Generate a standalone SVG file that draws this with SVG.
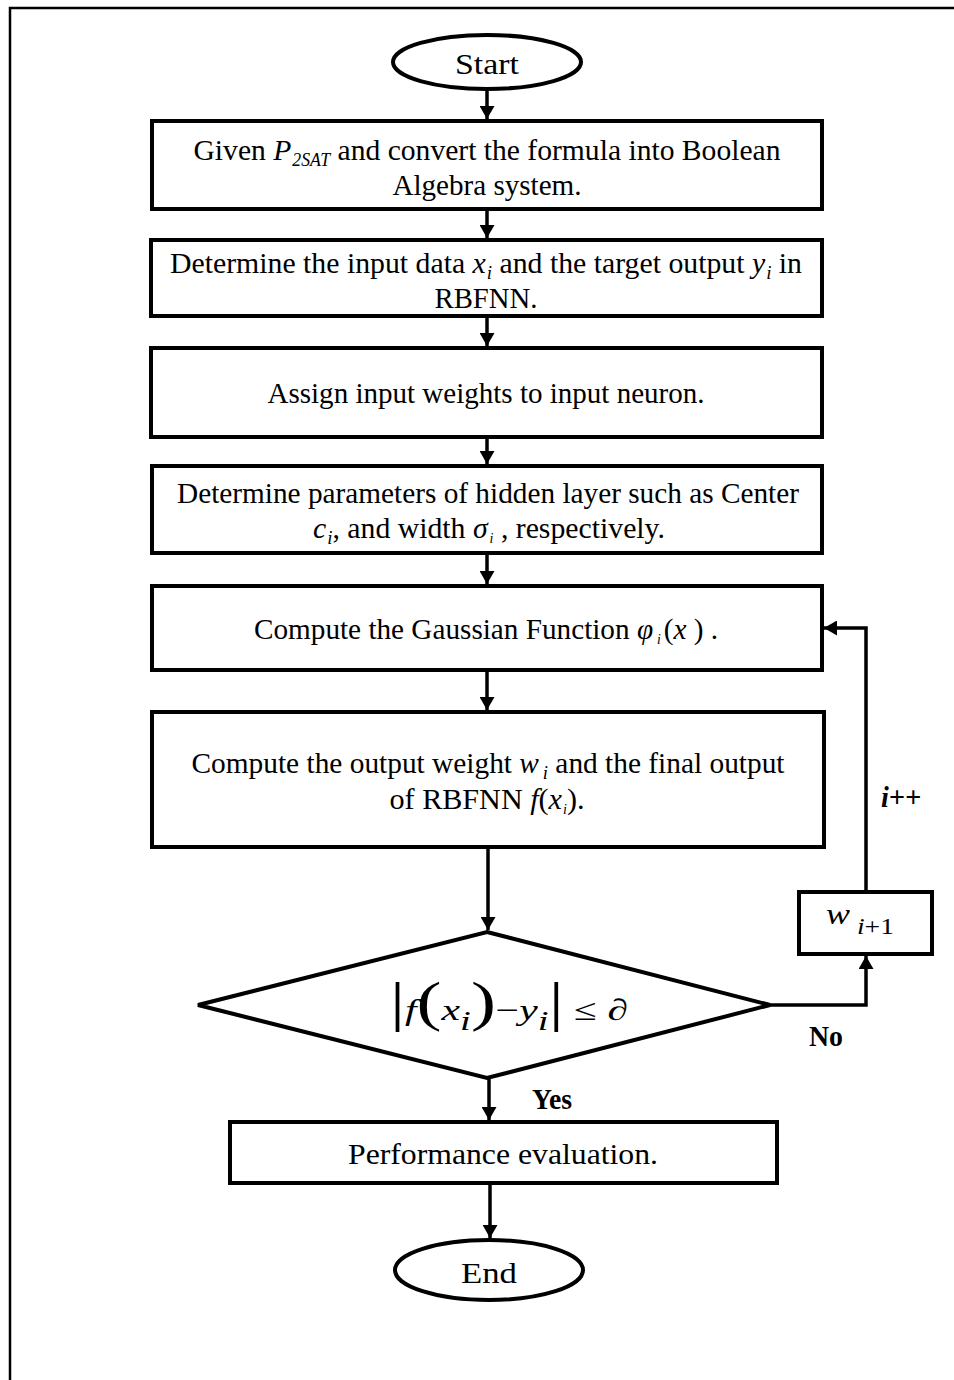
<svg xmlns="http://www.w3.org/2000/svg" width="954" height="1380" viewBox="0 0 954 1380">
<style>
.box{fill:#fff;stroke:#000;stroke-width:4}
.term{fill:#fff;stroke:#000;stroke-width:4}
.t{font-family:"Liberation Serif","Times New Roman",serif;font-size:30px;fill:#000;text-anchor:middle}
.i{font-style:italic}
.b{font-weight:bold}
.ln{fill:none;stroke:#000;stroke-width:3.5}
</style>
<defs>
<marker id="ah" viewBox="0 0 13 15" refX="13" refY="7.5" markerWidth="13" markerHeight="15" markerUnits="userSpaceOnUse" orient="auto">
<path d="M0,0 L13,7.5 L0,15 Z" fill="#000"/>
</marker>
</defs>
<rect x="0" y="0" width="954" height="1380" fill="#fff"/>
<path d="M10,1380 V8 H954" fill="none" stroke="#000" stroke-width="2.5"/>

<g id="connectors">
<line class="ln" x1="487" y1="90" x2="487" y2="119" marker-end="url(#ah)"/>
<line class="ln" x1="487" y1="209" x2="487" y2="238" marker-end="url(#ah)"/>
<line class="ln" x1="487" y1="316" x2="487" y2="346" marker-end="url(#ah)"/>
<line class="ln" x1="487" y1="437" x2="487" y2="464" marker-end="url(#ah)"/>
<line class="ln" x1="487" y1="553" x2="487" y2="584" marker-end="url(#ah)"/>
<line class="ln" x1="487" y1="670" x2="487" y2="710" marker-end="url(#ah)"/>
<line class="ln" x1="488" y1="847" x2="488" y2="930" marker-end="url(#ah)"/>
<line class="ln" x1="489" y1="1078" x2="489" y2="1120" marker-end="url(#ah)"/>
<line class="ln" x1="490" y1="1183" x2="490" y2="1238" marker-end="url(#ah)"/>
<polyline class="ln" points="770,1005 866,1005 866,956" marker-end="url(#ah)"/>
<polyline class="ln" points="866,892 866,628 824,628" marker-end="url(#ah)"/>
<text class="t i b" x="901" y="807" font-size="25" textLength="40" lengthAdjust="spacingAndGlyphs">i++</text>
<text class="t b" x="826" y="1046" font-size="25" textLength="34" lengthAdjust="spacingAndGlyphs">No</text>
<text class="t b" x="552" y="1109" font-size="25" textLength="40" lengthAdjust="spacingAndGlyphs">Yes</text>
</g>

<g id="start">
<ellipse class="term" cx="487" cy="62" rx="94" ry="27"/>
<text class="t" x="487" y="74" font-size="33" textLength="64" lengthAdjust="spacingAndGlyphs">Start</text>
</g>

<g id="box1">
<rect class="box" x="152" y="121" width="670" height="88"/>
<text class="t" x="487" y="160" textLength="587" lengthAdjust="spacingAndGlyphs">Given  <tspan class="i">P</tspan><tspan class="i" font-size="18" dy="6" dx="1">2SAT</tspan><tspan dy="-6"> and convert the formula into Boolean</tspan></text>
<text class="t" x="487" y="195" textLength="189" lengthAdjust="spacingAndGlyphs">Algebra system.</text>
</g>

<g id="box2">
<rect class="box" x="151" y="240" width="671" height="76"/>
<text class="t" x="486" y="273" textLength="632" lengthAdjust="spacingAndGlyphs">Determine the input data <tspan class="i">x</tspan><tspan class="i" font-size="19" dy="6" dx="1">i</tspan><tspan dy="-6"> and the target output </tspan><tspan class="i">y</tspan><tspan class="i" font-size="19" dy="6" dx="1">i</tspan><tspan dy="-6"> in</tspan></text>
<text class="t" x="486" y="308" textLength="103" lengthAdjust="spacingAndGlyphs">RBFNN.</text>
</g>

<g id="box3">
<rect class="box" x="151" y="348" width="671" height="89"/>
<text class="t" x="486" y="403" textLength="437" lengthAdjust="spacingAndGlyphs">Assign input weights to input neuron.</text>
</g>

<g id="box4">
<rect class="box" x="152" y="466" width="670" height="87"/>
<text class="t" x="488" y="503" textLength="622" lengthAdjust="spacingAndGlyphs">Determine parameters of hidden layer such as Center</text>
<text class="t" x="489" y="538" textLength="352" lengthAdjust="spacingAndGlyphs"><tspan class="i">c</tspan><tspan class="i" font-size="19" dy="6" dx="1">i</tspan><tspan dy="-6">, and width  </tspan><tspan class="i">σ</tspan><tspan class="i" font-size="14" dy="5" dx="2">i</tspan><tspan dy="-5"> , respectively.</tspan></text>
</g>

<g id="box5">
<rect class="box" x="152" y="586" width="670" height="84"/>
<text class="t" x="486" y="639" textLength="464" lengthAdjust="spacingAndGlyphs">Compute the Gaussian Function <tspan class="i">φ</tspan><tspan class="i" font-size="14" dy="5" dx="4">i</tspan><tspan dy="-5" dx="3">(</tspan><tspan class="i">x</tspan> ) .</text>
</g>

<g id="box6">
<rect class="box" x="152" y="712" width="672" height="135"/>
<text class="t" x="488" y="773" textLength="593" lengthAdjust="spacingAndGlyphs">Compute the output weight <tspan class="i">w</tspan><tspan class="i" font-size="19" dy="6" dx="4">i</tspan><tspan dy="-6"> and the final output</tspan></text>
<text class="t" x="487" y="809" textLength="195" lengthAdjust="spacingAndGlyphs">of RBFNN <tspan class="i">f</tspan>(<tspan class="i">x</tspan><tspan class="i" font-size="14" dy="5" dx="1">i</tspan><tspan dy="-5">).</tspan></text>
</g>

<g id="decision">
<polygon class="box" points="487,932 770,1005 487,1078 198,1005"/>
<text class="t" x="509" y="1020" font-size="44" textLength="238" lengthAdjust="spacingAndGlyphs"><tspan font-size="54">|</tspan><tspan class="i">f</tspan><tspan font-size="54">(</tspan><tspan class="i">x</tspan><tspan class="i" font-size="28" dy="10">i</tspan><tspan font-size="54" dy="-10">)</tspan>−<tspan class="i">y</tspan><tspan class="i" font-size="28" dy="10">i</tspan><tspan font-size="54" dy="-10">|</tspan> ≤ ∂</text>
</g>

<g id="update">
<rect class="box" x="799" y="892" width="133" height="62"/>
<text class="t i" x="860" y="924" font-size="30" textLength="68" lengthAdjust="spacingAndGlyphs">w<tspan font-size="23" dy="10"> i</tspan><tspan font-style="normal" font-size="23">+1</tspan></text>
</g>

<g id="perf">
<rect class="box" x="230" y="1122" width="547" height="61"/>
<text class="t" x="503" y="1164" textLength="310" lengthAdjust="spacingAndGlyphs">Performance evaluation.</text>
</g>

<g id="end">
<ellipse class="term" cx="489" cy="1270" rx="94" ry="30"/>
<text class="t" x="489" y="1283" font-size="33" textLength="56" lengthAdjust="spacingAndGlyphs">End</text>
</g>
</svg>
